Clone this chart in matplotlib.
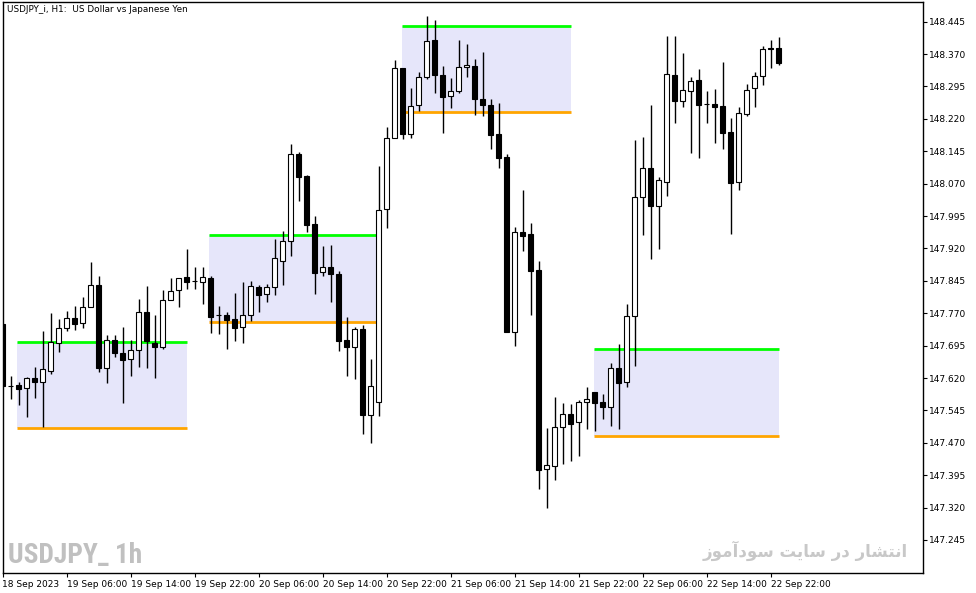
import numpy as np
import matplotlib
matplotlib.use('Agg')
import matplotlib.pyplot as plt
from matplotlib import font_manager
from matplotlib.patches import Rectangle

# USDJPY H1 bars, 18 Sep 22:00 .. 22 Sep 23:00
opens = [147.745, 147.602, 147.604, 147.598, 147.620, 147.610, 147.637, 147.702, 147.735, 147.758,
         147.747, 147.784, 147.835, 147.642, 147.707, 147.677, 147.663, 147.684, 147.773, 147.702,
         147.692, 147.800, 147.823, 147.853, 147.844, 147.842, 147.851, 147.765, 147.765, 147.756,
         147.737, 147.765, 147.831, 147.814, 147.830, 147.892, 147.936, 148.139, 148.088, 147.976,
         147.865, 147.877, 147.860, 147.707, 147.692, 147.733, 147.535, 147.564, 148.011, 148.175,
         148.337, 148.184, 148.251, 148.316, 148.402, 148.321, 148.272, 148.284, 148.339, 148.342,
         148.267, 148.251, 148.184, 148.131, 147.727, 147.957, 147.953, 147.869, 147.409, 147.416,
         147.506, 147.536, 147.517, 147.564, 147.587, 147.564, 147.554, 147.642, 147.610, 147.763,
         148.040, 148.105, 148.019, 148.074, 148.321, 148.262, 148.285, 148.309, 148.254, 148.254,
         148.249, 148.189, 148.074, 148.232, 148.292, 148.318, 148.383, 148.383]
highs = [147.746, 147.625, 147.610, 147.623, 147.645, 147.729, 147.770, 147.757, 147.775, 147.787,
         147.808, 147.889, 147.856, 147.720, 147.720, 147.738, 147.708, 147.803, 147.833, 147.766,
         147.824, 147.851, 147.851, 147.919, 147.878, 147.878, 147.857, 147.787, 147.773, 147.817,
         147.842, 147.845, 147.835, 147.838, 147.942, 147.960, 148.161, 148.143, 148.090, 147.995,
         147.925, 147.928, 147.868, 147.761, 147.738, 147.742, 147.664, 148.111, 148.200, 148.356,
         148.337, 148.291, 148.328, 148.458, 148.449, 148.342, 148.314, 148.402, 148.393, 148.358,
         148.375, 148.265, 148.256, 148.138, 147.969, 148.055, 147.978, 147.890, 147.504, 147.575,
         147.562, 147.559, 147.569, 147.599, 147.587, 147.583, 147.654, 147.699, 147.791, 148.171,
         148.178, 148.252, 148.085, 148.412, 148.412, 148.372, 148.317, 148.335, 148.284, 148.289,
         148.351, 148.223, 148.247, 148.300, 148.328, 148.388, 148.402, 148.409]
lows = [147.601, 147.572, 147.558, 147.529, 147.574, 147.507, 147.630, 147.680, 147.729, 147.730,
        147.736, 147.784, 147.634, 147.609, 147.669, 147.563, 147.625, 147.646, 147.644, 147.621,
        147.688, 147.800, 147.785, 147.825, 147.827, 147.792, 147.725, 147.723, 147.686, 147.706,
        147.702, 147.753, 147.773, 147.797, 147.813, 147.836, 147.903, 148.030, 147.959, 147.815,
        147.855, 147.797, 147.683, 147.625, 147.618, 147.491, 147.470, 147.533, 147.968, 148.175,
        148.173, 148.176, 148.239, 148.311, 148.280, 148.186, 148.246, 148.280, 148.317, 148.229,
        148.226, 148.151, 148.107, 147.727, 147.695, 147.915, 147.766, 147.363, 147.318, 147.384,
        147.420, 147.429, 147.440, 147.503, 147.498, 147.524, 147.510, 147.503, 147.600, 147.648,
        147.952, 147.896, 147.919, 148.042, 148.211, 148.248, 148.142, 148.130, 148.211, 148.165,
        148.150, 147.954, 148.055, 148.227, 148.248, 148.298, 148.338, 148.344]
closes = [147.601, 147.601, 147.595, 147.620, 147.610, 147.641, 147.703, 147.735, 147.758, 147.746,
          147.784, 147.835, 147.644, 147.707, 147.677, 147.662, 147.685, 147.773, 147.706, 147.692,
          147.801, 147.821, 147.851, 147.843, 147.844, 147.854, 147.762, 147.765, 147.755, 147.735,
          147.765, 147.833, 147.813, 147.831, 147.897, 147.937, 148.139, 148.086, 147.975, 147.864,
          147.877, 147.860, 147.706, 147.692, 147.733, 147.535, 147.601, 148.008, 148.175, 148.337,
          148.184, 148.250, 148.316, 148.401, 148.321, 148.271, 148.284, 148.339, 148.344, 148.267,
          148.253, 148.183, 148.130, 147.727, 147.957, 147.949, 147.868, 147.408, 147.418, 147.506,
          147.536, 147.514, 147.564, 147.571, 147.563, 147.554, 147.642, 147.609, 147.763, 148.038,
          148.105, 148.019, 148.078, 148.323, 148.262, 148.286, 148.307, 148.253, 148.254, 148.248,
          148.188, 148.072, 148.233, 148.286, 148.318, 148.381, 148.381, 148.350]

# session boxes (in bars from the first bar)
box_start = [1.85, 25.85, 49.9, 73.9]
box_end = [23.1, 47.1, 71.05, 97.05]
box_high = [147.703, 147.950, 148.436, 147.686]
box_low = [147.504, 147.749, 148.235, 147.486]

time_labels = ['18 Sep 2023', '19 Sep 06:00', '19 Sep 14:00', '19 Sep 22:00', '20 Sep 06:00',
               '20 Sep 14:00', '20 Sep 22:00', '21 Sep 06:00', '21 Sep 14:00', '21 Sep 22:00',
               '22 Sep 06:00', '22 Sep 14:00', '22 Sep 22:00']
price_ticks = [147.245, 147.320, 147.395, 147.470, 147.545, 147.620, 147.695, 147.770, 147.845,
               147.920, 147.995, 148.070, 148.145, 148.220, 148.295, 148.370, 148.445]

title = 'USDJPY_i, H1:  US Dollar vs Japanese Yen'
watermark = 'USDJPY_ 1h'
watermark_fa = 'انتشار در سایت سودآموز'

# matplotlib does no arabic shaping, so pick the presentation forms by hand
forms = {
    'ا': ('\ufe8d', '\ufe8e'), 'آ': ('\ufe81', '\ufe82'),
    'ر': ('\ufead', '\ufeae'), 'د': ('\ufea9', '\ufeaa'),
    'ز': ('\ufeaf', '\ufeb0'), 'و': ('\ufeed', '\ufeee'),
    'ن': ('\ufee5', '\ufee6', '\ufee7', '\ufee8'),
    'ت': ('\ufe95', '\ufe96', '\ufe97', '\ufe98'),
    'ش': ('\ufeb5', '\ufeb6', '\ufeb7', '\ufeb8'),
    'س': ('\ufeb1', '\ufeb2', '\ufeb3', '\ufeb4'),
    'ی': ('\ufbfc', '\ufbfd', '\ufbfe', '\ufbff'),
    'م': ('\ufee1', '\ufee2', '\ufee3', '\ufee4'),
}


def shape(s):
    out = []
    for i, ch in enumerate(s):
        if ch not in forms:
            out.append(ch)
            continue
        prev = s[i - 1] if i > 0 else ' '
        nxt = s[i + 1] if i + 1 < len(s) else ' '
        jp = prev in forms and len(forms[prev]) == 4
        jn = len(forms[ch]) == 4 and nxt in forms
        f = forms[ch]
        if jp and jn:
            out.append(f[3])
        elif jp:
            out.append(f[1])
        elif jn:
            out.append(f[2])
        else:
            out.append(f[0])
    return ''.join(reversed(out))


# narrow bold face for the big watermark, whatever is around
names = {f.name for f in font_manager.fontManager.ttflist}
narrow = 'DejaVu Sans'
for cand in ['Liberation Sans Narrow', 'Roboto Condensed', 'Open Sans Condensed', 'Arial Narrow',
             'DejaVu Sans Condensed']:
    if cand in names:
        narrow = cand
        break

W, H = 976, 593
fig = plt.figure(figsize=(W / 100, H / 100), dpi=100)
ax = fig.add_axes([2.5 / W, 1 - 573 / H, (923 - 2.5) / W, (573 - 2) / H])

x = np.arange(len(opens))
o = np.array(opens)
c = np.array(closes)

for s, e, hi, lo in zip(box_start, box_end, box_high, box_low):
    ax.add_patch(Rectangle((s, lo), e - s, hi - lo, facecolor='#E6E6FA', edgecolor='none', zorder=1))
    ax.hlines(hi, s, e, color='#00FF00', lw=2, zorder=2)
    ax.hlines(lo, s, e, color='#FFA500', lw=2, zorder=2)

ax.vlines(x, lows, highs, color='black', lw=1, zorder=3)
bottoms = np.minimum(o, c)
heights = np.maximum(np.abs(c - o), 0.0005)
cols = np.where(c > o, 'white', 'black')
ax.bar(x, heights, bottom=bottoms, width=0.62, color=cols, edgecolor='black', linewidth=0.8, zorder=4)

ax.set_xlim(0, 115.06)
ax.set_ylim(147.1686, 148.4904)

ax.set_xticks(np.arange(len(time_labels)) * 8)
ax.set_xticklabels(time_labels)
for lab in ax.get_xticklabels():
    lab.set_ha('left')
ax.yaxis.tick_right()
ax.set_yticks(price_ticks)
ax.set_yticklabels(['%.3f' % p for p in price_ticks])
ax.tick_params(axis='y', length=3, width=0.8, pad=1, labelsize=6.5)
ax.tick_params(axis='x', length=3, width=0.8, pad=2, labelsize=6.5)
for sp in ax.spines.values():
    sp.set_linewidth(1)

fig.text(7 / W, 1 - 9 / H, title, fontsize=6.4, va='center', ha='left')
wm = fig.text(8 / W, 1 - 563 / H, watermark, fontsize=22, fontweight='bold', color='#C0C0C0',
              family=[narrow, 'DejaVu Sans'], fontstretch='condensed', va='baseline', ha='left')
# squeeze to the reference width if only a wide face was found
fig.canvas.draw()
wpx = wm.get_window_extent().width
if wpx > 140:
    wm.set_fontsize(22 * 134 / wpx)
fig.text(908 / W, 1 - 551 / H, shape(watermark_fa), fontsize=12, fontweight='bold', color='#C8C8C8',
         family=['DejaVu Sans'], va='center', ha='right')

fig.savefig('out.png', dpi=100)
